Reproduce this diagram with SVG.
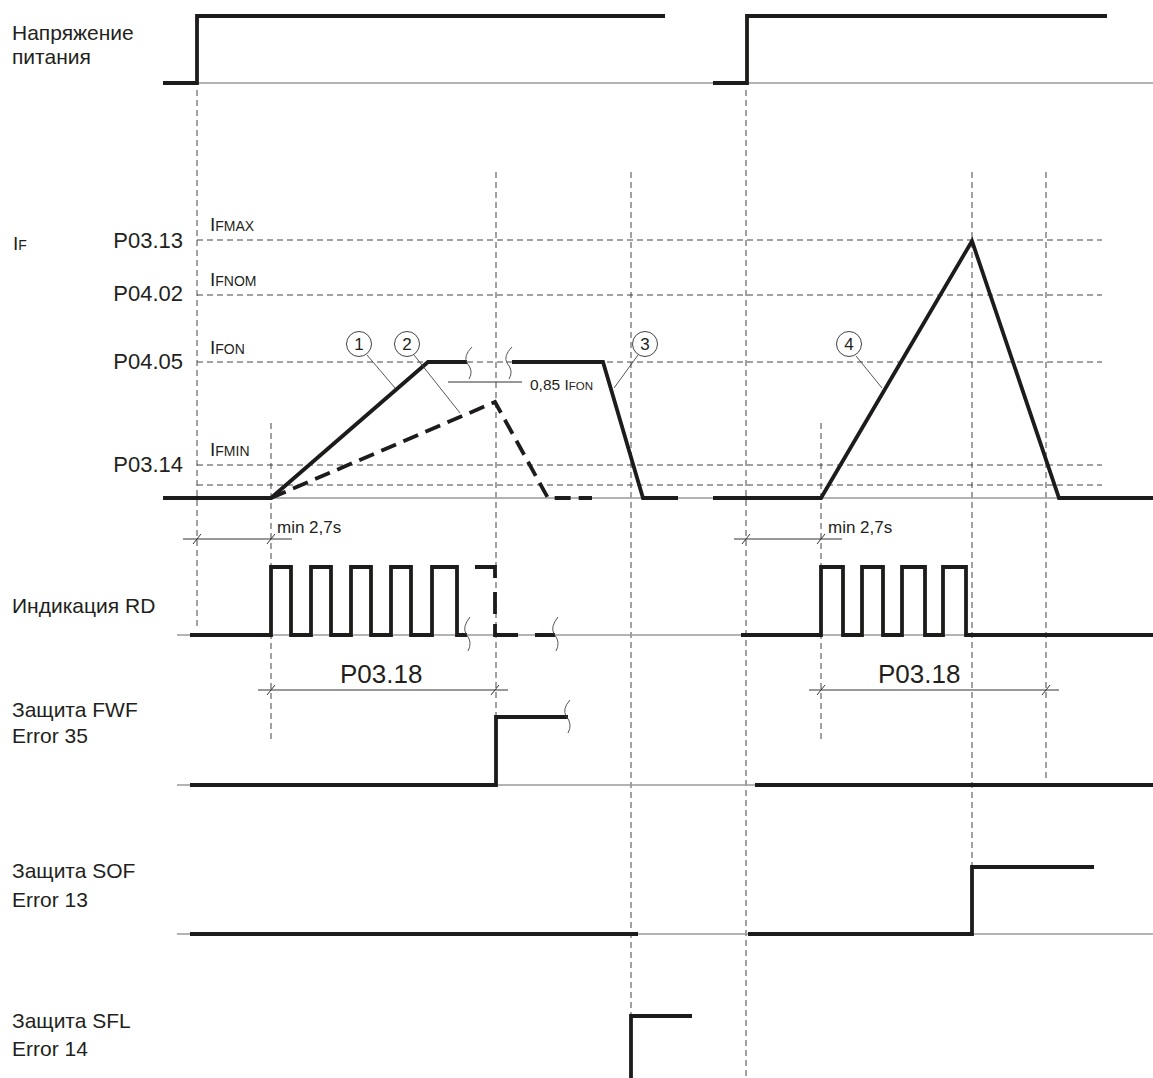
<svg xmlns="http://www.w3.org/2000/svg" width="1153" height="1078" viewBox="0 0 1153 1078">
<style>
text{font-family:"Liberation Sans",Arial,sans-serif;fill:#231f20}
.lbl{font-size:21px}
.par{font-size:22px;text-anchor:end}
.big{font-size:19px}
.sub{font-size:14px}
.sig{fill:none;stroke:#1e1b1b;stroke-width:3.8;stroke-linejoin:miter}
.sigd{fill:none;stroke:#1e1b1b;stroke-width:3.8;stroke-dasharray:16 8}
.base{fill:none;stroke:#9a9a9a;stroke-width:1.3}
.grid{fill:none;stroke:#444;stroke-width:1;stroke-dasharray:6 4}
.dim{fill:none;stroke:#333;stroke-width:1}
.thin{fill:none;stroke:#444;stroke-width:0.9}
.circ{fill:#fff;stroke:#444;stroke-width:1}
.num{font-size:17px;text-anchor:middle}
.small{font-size:17px}
.p18{font-size:26px}
</style>
<rect width="1153" height="1078" fill="#fff"/>

<g id="grid">
<path class="grid" d="M197,90 V630 M746,90 V1078 M271,423 V740 M821,423 V740 M496,172 V717 M631,172 V1016 M972,172 V867 M1046,172 V780"/>
<path class="grid" d="M197,240 H1102 M197,295 H1102 M197,362 H1102 M197,465 H1102 M197,485 H1102"/>
</g>

<g id="baselines">
<path class="base" d="M197,83 H1153 M163,498 H1153 M177,635 H1153 M177,785 H1153 M177,934 H1153"/>
</g>

<g id="labels">
<text class="lbl" x="12" y="40">Напряжение</text>
<text class="lbl" x="12" y="64">питания</text>
<text x="13" y="250"><tspan class="big">I</tspan><tspan class="sub">F</tspan></text>
<text class="lbl" x="12" y="613">Индикация RD</text>
<text class="lbl" x="12" y="717">Защита FWF</text>
<text class="lbl" x="12" y="743">Error 35</text>
<text class="lbl" x="12" y="878">Защита SOF</text>
<text class="lbl" x="12" y="907">Error 13</text>
<text class="lbl" x="12" y="1028">Защита SFL</text>
<text class="lbl" x="12" y="1056">Error 14</text>
</g>

<g id="levels">
<text class="par" x="183" y="248">P03.13</text>
<text class="par" x="183" y="301">P04.02</text>
<text class="par" x="183" y="369">P04.05</text>
<text class="par" x="183" y="472">P03.14</text>
<text x="210" y="231"><tspan class="big">I</tspan><tspan class="sub">FMAX</tspan></text>
<text x="210" y="286"><tspan class="big">I</tspan><tspan class="sub">FNOM</tspan></text>
<text x="210" y="354"><tspan class="big">I</tspan><tspan class="sub">FON</tspan></text>
<text x="210" y="456"><tspan class="big">I</tspan><tspan class="sub">FMIN</tspan></text>
</g>

<g id="power">
<path class="sig" d="M163,83 H197 V16 H665 M713,83 H747 V16 H1107"/>
</g>

<g id="current">
<path class="sig" d="M163,498 H271 L428,362 H467 M512,362 H603 L643,498 H678 M713,498 H821 L972,241 L1059,498 H1153"/>
<path class="sigd" d="M271,498 L495,402 L548,498 H592"/>
<path class="thin" d="M472,347 Q463,356 467,363 Q474,371 469,379 M512,347 Q503,356 507,363 Q514,371 509,379"/>
<path class="dim" d="M448,382 H522"/>
<text x="530" y="390" font-size="15.5">0,85 I<tspan font-size="11.5">FON</tspan></text>
</g>

<g id="callouts">
<path class="thin" d="M367,355 L395,388 M414,355 L460,413 M638,355 L614,388 M856,356 L882,388"/>
<circle class="circ" cx="359" cy="344" r="12.5"/>
<text class="num" x="359" y="350">1</text>
<circle class="circ" cx="407" cy="344" r="12.5"/>
<text class="num" x="407" y="350">2</text>
<circle class="circ" cx="645" cy="344" r="12.5"/>
<text class="num" x="645" y="350">3</text>
<circle class="circ" cx="849" cy="344" r="12.5"/>
<text class="num" x="849" y="350">4</text>
</g>

<g id="rd">
<path class="sig" d="M190,635 H271 V567 H291 V635 H311 V567 H331 V635 H351 V567 H371 V635 H391 V567 H411 V635 H432 V567 H457 V635 H467"/>
<path class="sig" d="M475,567 H495 V578 M495,592 V614 M495,624 V635 H518 M535,635 H555"/>
<path class="thin" d="M470,617 Q462,627 466,634 Q473,642 468,651 M558,617 Q550,627 554,634 Q561,642 556,651"/>
<path class="sig" d="M741,635 H821 V567 H843 V635 H862 V567 H883 V635 H902 V567 H925 V635 H943 V567 H966 V635 H1153"/>
</g>

<g id="dimensions">
<path class="dim" d="M183,539 H292 M734,539 H842 M258,690 H508 M809,690 H1059"/>
<path class="dim" d="M193,544 L201,534 M267,544 L275,534 M742,544 L750,534 M817,544 L825,534 M267,695 L275,685 M491,695 L499,685 M817,695 L825,685 M1042,695 L1050,685"/>
<text class="small" x="277" y="533">min 2,7s</text>
<text class="small" x="828" y="533">min 2,7s</text>
<text class="p18" x="340" y="683">P03.18</text>
<text class="p18" x="878" y="683">P03.18</text>
</g>

<g id="fwf">
<path class="sig" d="M190,785 H496 V717 H568 M755,785 H1153"/>
<path class="thin" d="M570,700 Q562,709 566,716 Q573,724 568,733"/>
</g>

<g id="sof">
<path class="sig" d="M190,934 H638 M748,934 H972 V867 H1094"/>
</g>

<g id="sfl">
<path class="sig" d="M631,1078 V1016 H692"/>
</g>
</svg>
